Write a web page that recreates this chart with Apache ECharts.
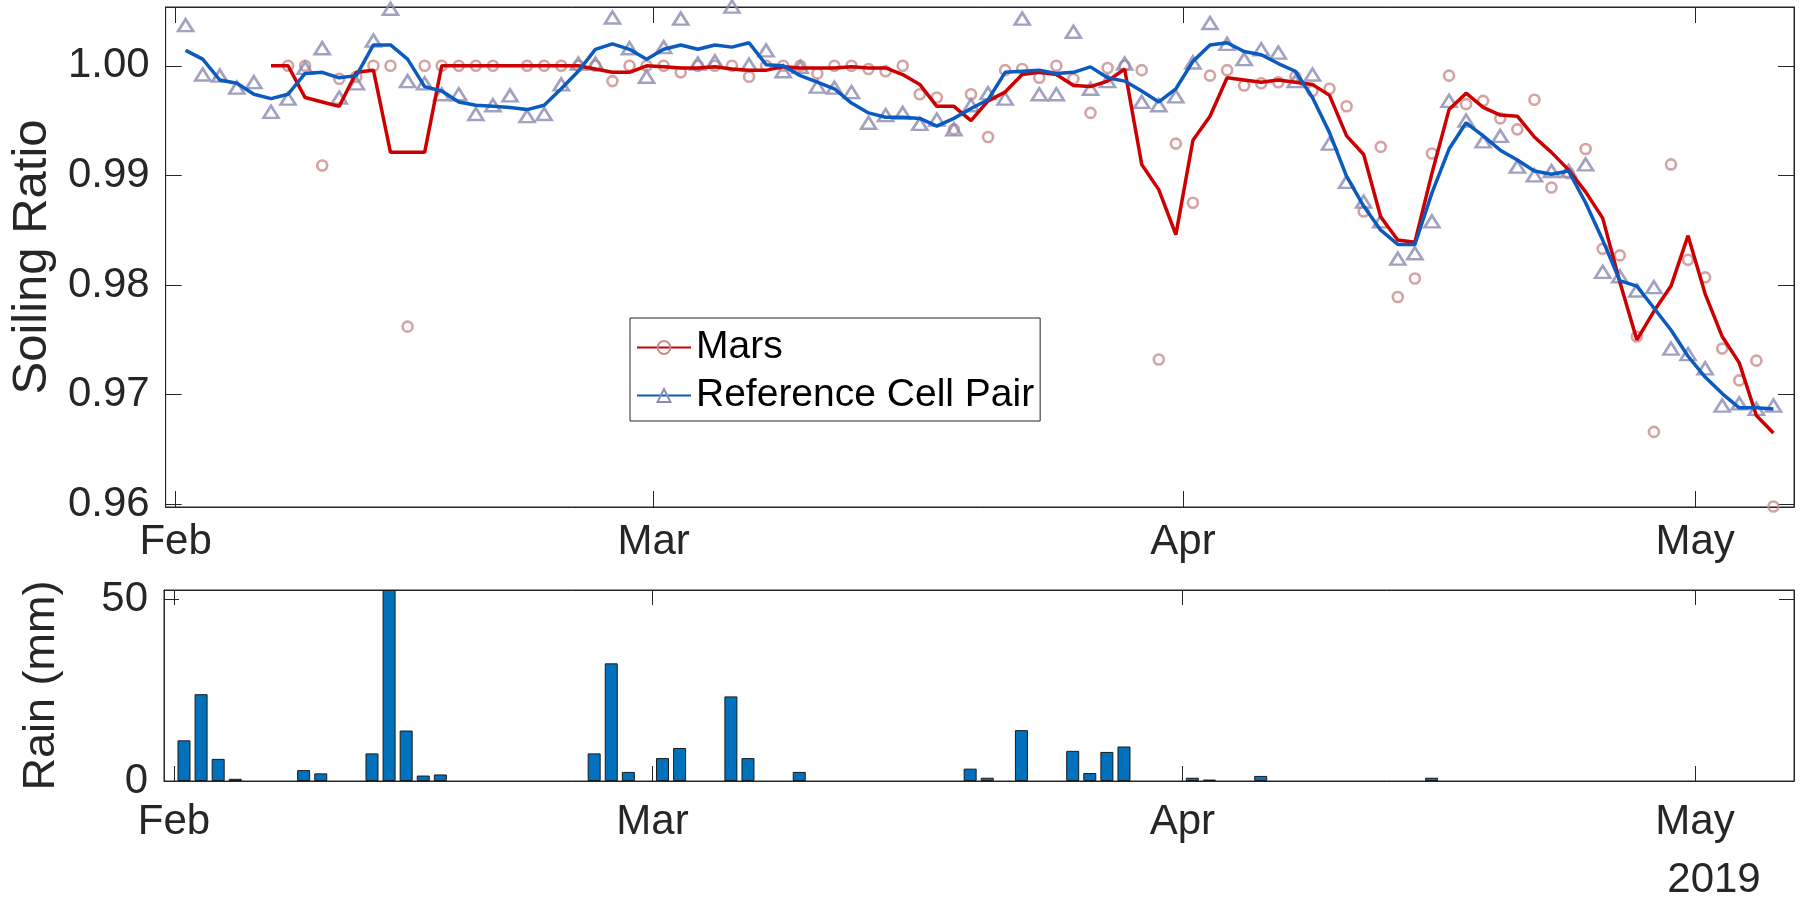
<!DOCTYPE html>
<html>
<head>
<meta charset="utf-8">
<script src="https://cdn.jsdelivr.net/npm/echarts@6/dist/echarts.min.js"></script>
<style>
html,body{margin:0;padding:0;background:#fff;}
#chart{width:1806px;height:901px;}
</style>
</head>
<body>
<div id="chart"></div>
<script>
// ---- axis definitions (days counted from 1 Feb 2019, 00:00) ----
const monthStarts = [0, 28, 59, 89];
const monthLabels = ['Feb', 'Mar', 'Apr', 'May'];
const yearLabel = '2019';
const sampleDayFraction = 0.585;          // daily samples taken ~14:00
const xRange = [-0.585, 94.79];
const soilingTicks = [0.96, 0.97, 0.98, 0.99, 1.00];
const soilingRange = [0.95975, 1.00536];
const rainTicks = [0, 50];
const rainRange = [0, 52.6];

// ---- series (one value per day, 1 Feb .. 5 May) ----
const marsDaily = [
  null,null,null,null,null,null,1.0000,1.0000,0.9909,0.9988,
  0.9990,1.0000,1.0000,0.9762,1.0000,1.0000,1.0000,1.0000,1.0000,null,
  1.0000,1.0000,1.0000,1.0000,1.0000,0.9986,1.0000,1.0000,1.0000,0.9994,
  1.0000,1.0000,1.0000,0.9990,1.0000,1.0000,1.0000,0.9993,1.0000,1.0000,
  0.9997,0.9995,1.0000,0.9974,0.9971,0.9942,0.9974,0.9935,0.9996,0.9997,
  0.9989,1.0000,0.9988,0.9957,0.9998,1.0000,0.9996,0.9732,0.9929,0.9875,
  0.9991,0.9996,0.9982,0.9984,0.9985,0.9990,0.9977,0.9979,0.9963,0.9867,
  0.9926,0.9789,0.9806,0.9920,0.9991,0.9965,0.9968,0.9952,0.9942,0.9969,
  0.9889,0.9902,0.9924,0.9833,0.9827,0.9753,0.9666,0.9910,0.9823,0.9807,
  0.9742,0.9713,0.9731,0.9598
];
const marsSmoothed = [
  null,null,null,null,null,1.0000,1.0000,0.9971,0.9967,0.9963,
  0.9994,0.9996,0.9921,0.9921,0.9921,1.0000,1.0000,1.0000,1.0000,1.0000,
  1.0000,1.0000,1.0000,1.0000,0.9997,0.9994,0.9994,1.0000,0.9999,0.9998,
  0.9998,0.9999,0.9997,0.9996,0.9996,0.9999,0.9998,0.9998,0.9998,0.9999,
  0.9998,0.9998,0.9992,0.9983,0.9963,0.9963,0.9950,0.9968,0.9976,0.9992,
  0.9994,0.9992,0.9982,0.9981,0.9986,0.9997,0.9910,0.9887,0.9846,0.9932,
  0.9954,0.9989,0.9987,0.9985,0.9987,0.9985,0.9983,0.9973,0.9936,0.9919,
  0.9862,0.9841,0.9839,0.9902,0.9960,0.9975,0.9962,0.9955,0.9954,0.9935,
  0.9921,0.9905,0.9885,0.9861,0.9803,0.9750,0.9776,0.9799,0.9845,0.9792,
  0.9753,0.9729,0.9681,0.9665
];
const refDaily = [
  1.0037,0.9992,0.9991,0.9980,0.9985,0.9958,0.9970,0.9998,1.0016,0.9971,
  0.9984,1.0023,1.0052,0.9986,0.9984,0.9974,0.9974,0.9956,0.9964,0.9973,
  0.9954,0.9956,0.9983,1.0002,1.0002,1.0044,1.0016,0.9990,1.0017,1.0043,
  1.0002,1.0004,1.0054,1.0001,1.0014,0.9995,0.9999,0.9981,0.9980,0.9976,
  0.9948,0.9955,0.9957,0.9947,0.9951,0.9942,0.9964,0.9975,0.9970,1.0043,
  0.9974,0.9974,1.0031,0.9979,0.9986,1.0002,0.9967,0.9964,0.9972,1.0003,
  1.0039,1.0020,1.0006,1.0015,1.0012,0.9986,0.9992,0.9929,0.9894,0.9876,
  0.9858,0.9824,0.9829,0.9858,0.9968,0.9950,0.9931,0.9936,0.9908,0.9900,
  0.9904,0.9904,0.9910,0.9812,0.9808,0.9795,0.9798,0.9742,0.9737,0.9724,
  0.9690,0.9692,0.9687,0.9690
];
const refSmoothed = [
  1.0014,1.0006,0.9987,0.9984,0.9974,0.9970,0.9974,0.9993,0.9994,0.9989,
  0.9991,1.0019,1.0019,1.0006,0.9981,0.9977,0.9967,0.9964,0.9963,0.9962,
  0.9960,0.9964,0.9979,0.9995,1.0015,1.0020,1.0015,1.0006,1.0015,1.0019,
  1.0015,1.0019,1.0017,1.0021,1.0001,1.0000,0.9991,0.9985,0.9979,0.9966,
  0.9957,0.9953,0.9953,0.9952,0.9945,0.9952,0.9961,0.9969,0.9994,0.9995,
  0.9996,0.9993,0.9994,0.9999,0.9989,0.9986,0.9977,0.9967,0.9979,1.0004,
  1.0019,1.0021,1.0013,1.0010,1.0002,0.9995,0.9971,0.9939,0.9899,0.9872,
  0.9850,0.9837,0.9837,0.9884,0.9924,0.9948,0.9936,0.9923,0.9914,0.9904,
  0.9901,0.9904,0.9875,0.9841,0.9804,0.9799,0.9779,0.9759,0.9735,0.9716,
  0.9701,0.9688,0.9688,0.9687
];
const rainMm = [
  11.2,23.9,6.1,0.6,0,0,0,3.0,2.1,0,
  0,7.6,52.6,13.9,1.5,1.8,0,0,0,0,
  0,0,0,0,7.6,32.4,2.5,0,6.3,9.1,
  0,0,23.3,6.3,0,0,2.5,0,0,0,
  0,0,0,0,0,0,3.4,0.9,0,14.0,
  0,0,8.3,2.2,8.0,9.5,0,0,0,0.9,
  0.4,0,0,1.4,0,0,0,0,0,0,
  0,0,0,0.9,0,0,0,0,0,0,
  0,0,0,0,0,0,0,0,0,0,
  0,0,0,0
];

// ---- build ----
const FONT = 'Liberation Sans, Arial, Helvetica, sans-serif';
const AX = '#262626';
const xs = refDaily.map((_, i) => i + sampleDayFraction);
const pairs = arr => arr.map((v, i) => [xs[i], v]);
const monthName = v => {
  const k = monthStarts.findIndex(m => Math.abs(m - v) < 1e-6);
  return k >= 0 ? monthLabels[k] : '';
};

function xAxisDef(gridIndex, position, withLabels, tickLen, margin) {
  return {
    type: 'value', gridIndex, position, min: xRange[0], max: xRange[1],
    axisLine: { show: true, onZero: false, lineStyle: { color: AX, width: 1 } },
    axisTick: { show: true, inside: true, length: tickLen, customValues: monthStarts,
                lineStyle: { color: AX, width: 1 } },
    axisLabel: { show: withLabels, customValues: monthStarts, formatter: monthName,
                 fontSize: 42, fontFamily: FONT, color: AX, margin },
    splitLine: { show: false }
  };
}
function yAxisDef(gridIndex, position, withLabels, range, ticks, fmt, name, tickLen, nameSize, nameGap) {
  return {
    type: 'value', gridIndex, position, min: range[0], max: range[1],
    name: withLabels ? name : '', nameLocation: 'middle', nameGap: nameGap || 100, nameRotate: 90,
    nameTextStyle: { fontSize: nameSize || 47, fontFamily: FONT, color: AX },
    axisLine: { show: true, onZero: false, lineStyle: { color: AX, width: 1 } },
    axisTick: { show: true, inside: true, length: tickLen, customValues: ticks,
                lineStyle: { color: AX, width: 1 } },
    axisLabel: { show: withLabels, customValues: ticks, formatter: fmt,
                 fontSize: 42, fontFamily: FONT, color: AX, margin: 16 },
    splitLine: { show: false }
  };
}

const MARS_LINE = '#cc0000';
const MARS_PT = '#c98c8c';
const REF_LINE = '#0a5abf';
const REF_PT = '#8a8ab2';

const option = {
  animation: false,
  backgroundColor: '#ffffff',
  grid: [
    { left: 164, top: 7, width: 1630, height: 500, show: true, borderColor: AX, borderWidth: 1, containLabel: false },
    { left: 164, top: 590, width: 1630, height: 191, show: true, borderColor: AX, borderWidth: 1, containLabel: false }
  ],
  xAxis: [
    xAxisDef(0, 'bottom', true, 16, 14),
    xAxisDef(0, 'top', false, 16, 8),
    xAxisDef(1, 'bottom', true, 15, 20),
    xAxisDef(1, 'top', false, 15, 8)
  ],
  yAxis: [
    yAxisDef(0, 'left', true, soilingRange, soilingTicks, v => v.toFixed(2), 'Soiling Ratio', 16, 49, 98),
    yAxisDef(0, 'right', false, soilingRange, soilingTicks, v => v.toFixed(2), '', 16),
    yAxisDef(1, 'left', true, rainRange, rainTicks, v => String(v), 'Rain (mm)', 15, 45, 100),
    yAxisDef(1, 'right', false, rainRange, rainTicks, v => String(v), '', 15)
  ],
  legend: {
    data: ['Mars', 'Reference Cell Pair'],
    orient: 'vertical', left: 630, top: 318,
    backgroundColor: '#ffffff', borderColor: AX, borderWidth: 1,
    padding: [10, 6, 6, 6], itemGap: 9, itemWidth: 54, itemHeight: 16,
    textStyle: { fontSize: 39, fontFamily: FONT, color: '#000' },
    selectedMode: false
  },
  graphic: [
    { type: 'text', x: 1714, y: 880, silent: true,
      style: { text: yearLabel, font: '42px ' + FONT, fill: AX, align: 'center', verticalAlign: 'middle' } }
  ],
  series: [
    { name: 'Mars daily', type: 'scatter', xAxisIndex: 0, yAxisIndex: 0, clip: false, silent: true,
      symbol: 'circle', symbolSize: 10,
      itemStyle: { color: 'rgba(0,0,0,0)', borderColor: MARS_PT, borderWidth: 2.6 },
      data: pairs(marsDaily).filter(d => d[1] !== null) },
    { name: 'Reference daily', type: 'scatter', xAxisIndex: 0, yAxisIndex: 0, clip: false, silent: true,
      symbol: 'triangle', symbolSize: [15, 12],
      itemStyle: { color: 'rgba(0,0,0,0)', borderColor: REF_PT, borderWidth: 2.6 },
      data: pairs(refDaily) },
    { name: 'Mars', type: 'line', xAxisIndex: 0, yAxisIndex: 0, silent: true,
      symbol: 'circle', showSymbol: false,
      itemStyle: { color: 'rgba(0,0,0,0)', borderColor: MARS_PT, borderWidth: 2.6 },
      lineStyle: { color: MARS_LINE, width: 3.5 },
      data: pairs(marsSmoothed) },
    { name: 'Reference Cell Pair', type: 'line', xAxisIndex: 0, yAxisIndex: 0, silent: true,
      symbol: 'triangle', showSymbol: false,
      itemStyle: { color: 'rgba(0,0,0,0)', borderColor: REF_PT, borderWidth: 2.6 },
      lineStyle: { color: REF_LINE, width: 3.5 },
      data: pairs(refSmoothed) },
    { name: 'Rain', type: 'bar', xAxisIndex: 2, yAxisIndex: 2, silent: true,
      barWidth: 13,
      itemStyle: { color: '#0072BD', borderColor: '#1a1a1a', borderWidth: 1 },
      data: pairs(rainMm).filter(d => d[1] > 0) }
  ]
};

const chart = echarts.init(document.getElementById('chart'), null, { renderer: 'canvas' });
chart.setOption(option);
</script>
</body>
</html>
